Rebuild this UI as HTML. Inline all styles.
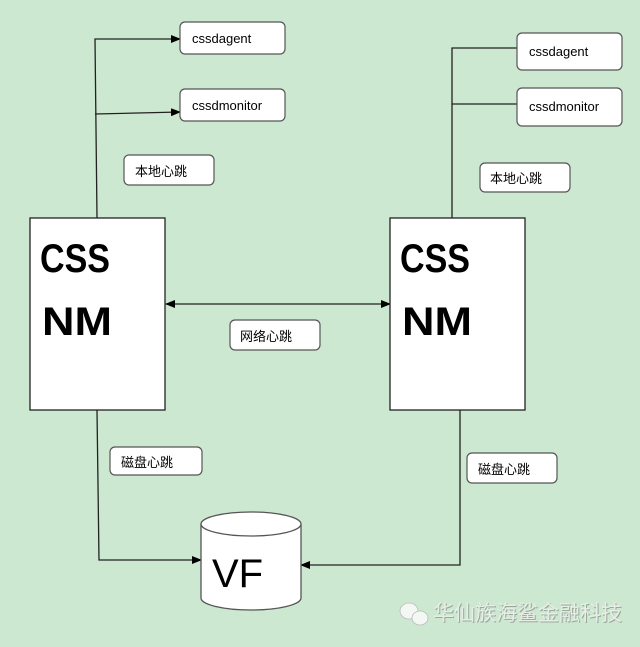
<!DOCTYPE html>
<html><head><meta charset="utf-8"><style>
body{margin:0;background:#cde8d0;}
svg{display:block}
text{font-family:"Liberation Sans","Noto Sans CJK SC",sans-serif;}
</style></head><body>
<svg width="640" height="647" viewBox="0 0 640 647" xmlns="http://www.w3.org/2000/svg">
<defs><marker id="a" markerWidth="10" markerHeight="8" refX="9" refY="4" orient="auto" markerUnits="userSpaceOnUse"><path d="M0,0L10,4L0,8z" fill="#000"/></marker>
<marker id="b" markerWidth="10" markerHeight="8" refX="1" refY="4" orient="auto" markerUnits="userSpaceOnUse"><path d="M10,0L0,4L10,8z" fill="#000"/></marker></defs>
<rect width="640" height="647" fill="#cde8d0"/>
<g stroke="#222" stroke-width="1.3" fill="none">
<path d="M97,218 L95,39 L180,39" marker-end="url(#a)"/>
<path d="M95,114 L180,112" marker-end="url(#a)"/>
<path d="M452,218 L452,48 L517,48"/>
<path d="M452,104 L517,104"/>
<path d="M166,304 L390,304" marker-start="url(#b)" marker-end="url(#a)"/>
<path d="M97,410 L99,560 L201,560" marker-end="url(#a)"/>
<path d="M460,410 L460,565 L301,565" marker-end="url(#a)"/>
</g>
<g fill="#fff" stroke="#555" stroke-width="1.2">
<rect x="180" y="22" width="105" height="32" rx="5"/>
<rect x="180" y="89" width="105" height="32" rx="5"/>
<rect x="124" y="155" width="90" height="30" rx="5"/>
<rect x="517" y="33" width="105" height="37" rx="5"/>
<rect x="517" y="88" width="105" height="38" rx="5"/>
<rect x="480" y="163" width="90" height="29" rx="5"/>
<rect x="230" y="320" width="90" height="30" rx="5"/>
<rect x="110" y="447" width="92" height="28" rx="5"/>
<rect x="467" y="453" width="90" height="30" rx="5"/>
</g>
<rect x="30" y="218" width="135" height="192" fill="#fff" stroke="#222" stroke-width="1.3"/>
<rect x="390" y="218" width="135" height="192" fill="#fff" stroke="#222" stroke-width="1.3"/>
<path d="M201,524 L201,598 A50,12 0 0 0 301,598 L301,524" fill="#fff" stroke="#555" stroke-width="1.3"/>
<ellipse cx="251" cy="524" rx="50" ry="12" fill="#fff" stroke="#555" stroke-width="1.3"/>
<g font-size="13" fill="#000">
<text x="192" y="43">cssdagent</text>
<text x="192" y="110">cssdmonitor</text>
<text x="135" y="176">本地心跳</text>
<text x="529" y="56">cssdagent</text>
<text x="529" y="111">cssdmonitor</text>
<text x="490" y="183">本地心跳</text>
<text x="240" y="341">网络心跳</text>
<text x="121" y="467">磁盘心跳</text>
<text x="478" y="474">磁盘心跳</text>
</g>
<g font-size="40" font-weight="bold" fill="#000">
<text x="40" y="272" textLength="70" lengthAdjust="spacingAndGlyphs">CSS</text><text x="42" y="335" textLength="70" lengthAdjust="spacingAndGlyphs">NM</text>
<text x="400" y="272" textLength="70" lengthAdjust="spacingAndGlyphs">CSS</text><text x="402" y="335" textLength="70" lengthAdjust="spacingAndGlyphs">NM</text>
</g>
<text x="212" y="587" font-size="40" fill="#000">VF</text>
<g fill="#f4f8f4" stroke="#bbb" stroke-width="0.8"><ellipse cx="409" cy="611" rx="9" ry="8"/><ellipse cx="420" cy="618" rx="8" ry="7"/></g>
<text x="434" y="621" font-size="21" fill="#9aa89c">华仙族海鲨金融科技</text>
<text x="433" y="620" font-size="21" fill="#e6eee6">华仙族海鲨金融科技</text>
</svg>
</body></html>
